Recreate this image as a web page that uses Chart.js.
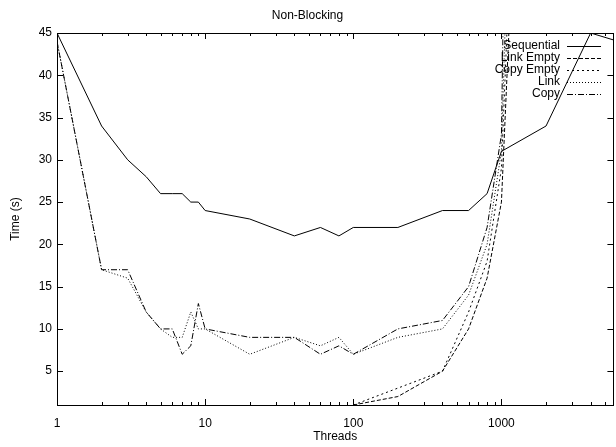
<!DOCTYPE html>
<html>
<head>
<meta charset="utf-8">
<script src="https://cdn.jsdelivr.net/npm/chart.js@4"></script>
<style>
body { margin: 0; background: #fff; }
</style>
</head>
<body>
<canvas id="chart1" width="616" height="447"></canvas>
<script>
/* Data */
/////////////////////////////////////////////////////////////////
const threads = [1, 2, 3, 4, 5, 6, 7, 8, 9, 10, 20, 40, 60, 80, 100, 200, 400, 600, 800, 1000, 2000, 4000, 8000];
const sequential = [45, 34, 30, 28, 26, 26, 26, 25, 25, 24, 23, 21, 22, 21, 22, 22, 24, 24, 26, 31, 34, 45, 43.4];
const linkEmpty = [null, null, null, null, null, null, null, null, null, null, null, null, null, null, 1, 2, 5, 10, 16, 25, 145, null, null];
const copyEmpty = [null, null, null, null, null, null, null, null, null, null, null, null, null, null, 1, 3, 5, 12, 18, 29, 160, null, null];
const link = [44, 17, 16, 12, 10, 9, 9, 12, 10, 10, 7, 9, 8, 9, 7, 9, 10, 14, 20, 31, 210, null, null];
const copy = [44, 17, 17, 12, 10, 10, 7, 8, 13, 10, 9, 9, 7, 8, 7, 10, 11, 15, 22, 33, 390, null, null];

const xMajor = [1, 10, 100, 1000];
const xMinor = [2, 3, 4, 5, 6, 7, 8, 9, 20, 30, 40, 50, 60, 70, 80, 90, 200, 300, 400, 500, 600, 700, 800, 900, 2000, 3000, 4000, 5000];
const yTicks = [5, 10, 15, 20, 25, 30, 35, 40, 45];

const FONT = 'Liberation Sans, Arial, sans-serif';

/* turn a series into x/y points */
function pts(vals) {
    let out = [];
    for (let i = 0; i < threads.length; i++) {
        out.push({ x: threads[i], y: vals[i] });
    }
    return out;
}

function mkSet(label, vals, dash) {
    return {
        label: label,
        data: pts(vals),
        borderColor: '#000',
        borderWidth: 1,
        borderDash: dash,
        pointRadius: 0,
        tension: 0,
        fill: false,
        clip: 0
    };
}

const datasets = [
    mkSet('Sequential', sequential, []),
    mkSet('Link Empty', linkEmpty, [4, 2]),
    mkSet('Copy Empty', copyEmpty, [2, 3]),
    mkSet('Link', link, [1, 2]),
    mkSet('Copy', copy, [6, 2, 1, 2])
];

/* gnuplot style ticks, border and key */
/////////////////////////////////////////////////////////////////
const gnuplotBits = {
    id: 'gnuplotBits',
    afterDatasetsDraw(chart) {
        const c = chart.ctx;
        const a = chart.chartArea;
        const xs = chart.scales.x;
        const ys = chart.scales.y;
        c.save();
        c.strokeStyle = '#000';
        c.lineWidth = 1;
        c.setLineDash([]);
        c.beginPath();
        const allX = xMajor.map(v => [v, 6]).concat(xMinor.map(v => [v, 3]));
        allX.forEach(([v, len]) => {
            const px = Math.round(xs.getPixelForValue(v)) + 0.5;
            if (px < a.left || px > a.right) return;
            c.moveTo(px, a.bottom);
            c.lineTo(px, a.bottom - len);
            c.moveTo(px, a.top);
            c.lineTo(px, a.top + len);
        });
        yTicks.forEach(v => {
            const py = Math.round(ys.getPixelForValue(v)) + 0.5;
            c.moveTo(a.left, py);
            c.lineTo(a.left + 6, py);
            c.moveTo(a.right, py);
            c.lineTo(a.right - 6, py);
        });
        c.stroke();
        c.strokeRect(Math.round(a.left) + 0.5, Math.round(a.top) + 0.5, Math.round(a.right - a.left), Math.round(a.bottom - a.top));

        // key
        c.font = '12px ' + FONT;
        c.fillStyle = '#000';
        c.textAlign = 'right';
        c.textBaseline = 'middle';
        chart.data.datasets.forEach((ds, i) => {
            const y = 46 + i * 12;
            c.fillText(ds.label, 560, y);
            c.setLineDash(ds.borderDash);
            c.beginPath();
            c.moveTo(567, y + 0.5);
            c.lineTo(601, y + 0.5);
            c.stroke();
        });
        c.restore();
    }
};

/////////////////////////////////////////////////////////////////
const ctx = document.getElementById('chart1');
const chart1 = new Chart(ctx, {
    type: 'line',
    data: { datasets: datasets },
    plugins: [gnuplotBits],
    options: {
        responsive: false,
        animation: false,
        layout: { padding: { left: 0, right: 1, top: 0, bottom: 0 } },
        plugins: {
            legend: { display: false },
            tooltip: { enabled: false },
            title: {
                display: true,
                text: 'Non-Blocking',
                color: '#000',
                font: { family: FONT, size: 12, weight: 'normal' },
                padding: { top: 8, bottom: 10.6 }
            }
        },
        scales: {
            x: {
                type: 'logarithmic',
                min: 1,
                max: 5700,
                grid: { display: false, drawTicks: false },
                border: { display: false },
                afterBuildTicks: s => { s.ticks = xMajor.concat(xMinor).sort((p, q) => p - q).map(v => ({ value: v })); },
                afterFit: s => { s.height = 42; },
                ticks: {
                    autoSkip: false,
                    maxRotation: 0,
                    padding: 11,
                    color: '#000',
                    font: { family: FONT, size: 12 },
                    callback: v => (xMajor.includes(v) ? String(v) : '')
                },
                title: {
                    display: true,
                    text: 'Threads',
                    color: '#000',
                    font: { family: FONT, size: 12 },
                    padding: { top: 0, bottom: 3 }
                }
            },
            y: {
                min: 1,
                max: 45,
                grid: { display: false, drawTicks: false },
                border: { display: false },
                afterBuildTicks: s => { s.ticks = yTicks.map(v => ({ value: v })); },
                afterFit: s => { s.width = 57; },
                ticks: {
                    padding: 5,
                    color: '#000',
                    font: { family: FONT, size: 12 }
                },
                title: {
                    display: true,
                    text: 'Time (s)',
                    color: '#000',
                    font: { family: FONT, size: 12 },
                    padding: { top: 8, bottom: 0 }
                }
            }
        }
    }
});
/////////////////////////////////////////////////////////////////
</script>
</body>
</html>
